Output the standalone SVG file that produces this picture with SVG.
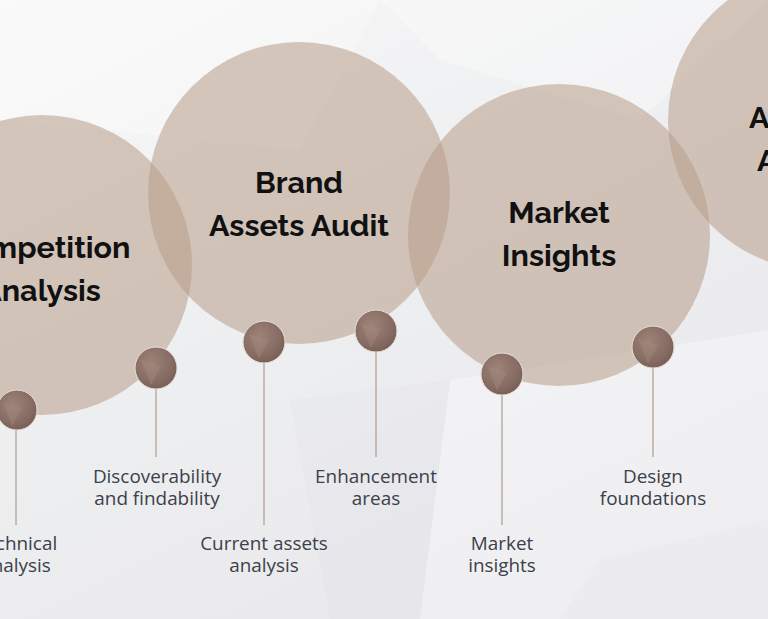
<svg xmlns="http://www.w3.org/2000/svg" width="768" height="619" viewBox="0 0 768 619">
<defs>
<linearGradient id="bg" x1="0" y1="0" x2="0.6" y2="1">
<stop offset="0" stop-color="#f8f8f8"/>
<stop offset="0.5" stop-color="#eeeff1"/>
<stop offset="1" stop-color="#e9e9ec"/>
</linearGradient>
<radialGradient id="pin" cx="0.4" cy="0.35" r="0.7">
<stop offset="0" stop-color="#9d8278"/>
<stop offset="0.7" stop-color="#856b61"/>
<stop offset="1" stop-color="#765d54"/>
</radialGradient>
<style>
.big{fill:#b89c88;fill-opacity:0.55}
.title{font-family:Raleway,"Liberation Sans",Arial,sans-serif;font-weight:bold;font-size:30.5px;fill:#111;text-anchor:middle}
.lbl{font-family:"Open Sans","Noto Sans",sans-serif;font-size:18.9px;fill:#3b404a;text-anchor:middle}
.stem{stroke:#bcaaa2;stroke-width:1.5}
.ball{fill:url(#pin);stroke:#e6dcd6;stroke-width:1}
.facet{fill:#a88e84;fill-opacity:0.35}
</style>
</defs>
<rect width="768" height="619" fill="url(#bg)"/>
<g fill="#ffffff" fill-opacity="0.3">
<polygon points="0,0 380,0 300,150 0,120"/>
<polygon points="380,0 768,0 640,120 440,60"/>
<polygon points="450,380 768,330 768,619 420,619"/>
</g>
<g fill="#dcdde1" fill-opacity="0.18">
<polygon points="290,400 450,380 420,619 330,619"/>
<polygon points="600,560 768,520 768,619 560,619"/>
</g>

<g id="connectors">
<line class="stem" x1="16" y1="430" x2="16" y2="525"/>
<line class="stem" x1="156" y1="389" x2="156" y2="457"/>
<line class="stem" x1="264" y1="363" x2="264" y2="525"/>
<line class="stem" x1="376" y1="352" x2="376" y2="457"/>
<line class="stem" x1="502" y1="395" x2="502" y2="525"/>
<line class="stem" x1="653" y1="368" x2="653" y2="457"/>
</g>

<g id="node-competition">
<circle class="big" cx="42" cy="265" r="150"/>
<text class="title" x="40" y="258">Competition</text>
<text class="title" x="41" y="301">Analysis</text>
</g>
<g id="node-brand">
<circle class="big" cx="299" cy="193" r="151"/>
<text class="title" x="299" y="193">Brand</text>
<text class="title" x="299" y="236">Assets Audit</text>
</g>
<g id="node-market">
<circle class="big" cx="559" cy="235" r="151"/>
<text class="title" x="559" y="223">Market</text>
<text class="title" x="559" y="266">Insights</text>
</g>
<g id="node-fourth">
<circle class="big" cx="818" cy="120" r="150"/>
<text class="title" x="749" y="128" style="text-anchor:start">A</text>
<text class="title" x="757" y="171" style="text-anchor:start">A</text>
</g>

<g id="pin-technical">
<circle class="ball" cx="17" cy="410" r="20"/>
<polygon class="facet" points="3,402 22,408 12,426"/>
<text class="lbl" x="16" y="550">Technical</text>
<text class="lbl" x="16" y="572">analysis</text>
</g>
<g id="pin-discoverability">
<circle class="ball" cx="156" cy="368" r="21"/>
<polygon class="facet" points="141,360 161,366 151,385"/>
<text class="lbl" x="157" y="483">Discoverability</text>
<text class="lbl" x="157" y="505">and findability</text>
</g>
<g id="pin-current">
<circle class="ball" cx="264" cy="342" r="21"/>
<polygon class="facet" points="249,334 269,340 259,359"/>
<text class="lbl" x="264" y="550">Current assets</text>
<text class="lbl" x="264" y="572">analysis</text>
</g>
<g id="pin-enhancement">
<circle class="ball" cx="376" cy="331" r="21"/>
<polygon class="facet" points="361,323 381,329 371,348"/>
<text class="lbl" x="376" y="483">Enhancement</text>
<text class="lbl" x="376" y="505">areas</text>
</g>
<g id="pin-market">
<circle class="ball" cx="502" cy="374" r="21"/>
<polygon class="facet" points="487,366 507,372 497,391"/>
<text class="lbl" x="502" y="550">Market</text>
<text class="lbl" x="502" y="572">insights</text>
</g>
<g id="pin-design">
<circle class="ball" cx="653" cy="347" r="21"/>
<polygon class="facet" points="638,339 658,345 648,364"/>
<text class="lbl" x="653" y="483">Design</text>
<text class="lbl" x="653" y="505">foundations</text>
</g>
</svg>
